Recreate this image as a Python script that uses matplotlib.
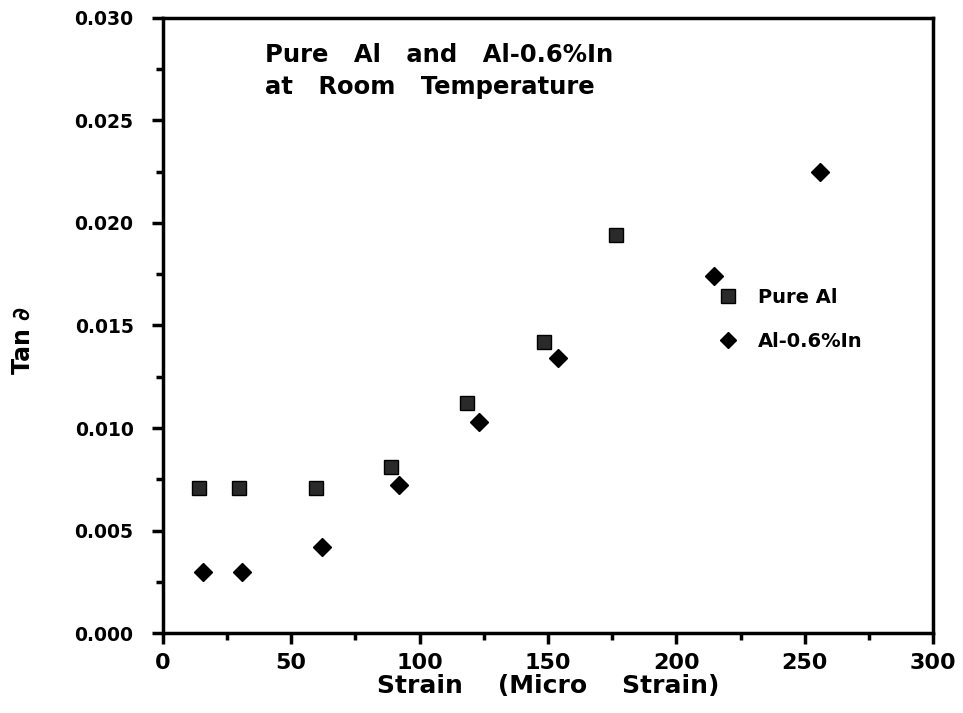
import matplotlib
matplotlib.use("Agg")
import matplotlib.pyplot as plt
from matplotlib.ticker import MultipleLocator

plt.rcParams['font.family'] = ['DejaVu Sans']
plt.rcParams['font.weight'] = 'bold'

# Pure Al
al_strain = [14, 29.5, 59.5, 89, 118.5, 148.5, 176.5]
al_tan = [0.0071, 0.0071, 0.0071, 0.0081, 0.0112, 0.0142, 0.0194]

# Al-0.6%In
alin_strain = [15.5, 31, 62, 92, 123, 154, 214.5, 256]
alin_tan = [0.0030, 0.0030, 0.0042, 0.0072, 0.0103, 0.0134, 0.0174, 0.0225]

fig = plt.figure(figsize=(9.63, 7.13), dpi=100)
ax = fig.add_axes([0.169, 0.112, 0.800, 0.863])

ax.plot(al_strain, al_tan, 's', color='black', markersize=10.5,
        markerfacecolor='#2a2a2a', markeredgecolor='black', label='Pure Al')
ax.plot(alin_strain, alin_tan, 'D', color='black', markersize=9.5, label='Al-0.6%In')

ax.set_xlim(0, 300)
ax.set_ylim(0, 0.030)
ax.xaxis.set_major_locator(MultipleLocator(50))
ax.xaxis.set_minor_locator(MultipleLocator(25))
ax.yaxis.set_major_locator(MultipleLocator(0.005))
ax.yaxis.set_minor_locator(MultipleLocator(0.0025))
ax.yaxis.set_major_formatter(plt.FormatStrFormatter('%.3f'))

for s in ax.spines.values():
    s.set_linewidth(2.5)
ax.tick_params(which='major', direction='out', length=8, width=2.5)
ax.tick_params(axis='x', which='major', labelsize=16, pad=6)
ax.tick_params(axis='y', which='major', labelsize=13.5, pad=13)
ax.tick_params(which='minor', direction='out', length=5, width=2.5)
ax.tick_params(top=False, right=False)

ax.set_xlabel('Strain    (Micro    Strain)', fontsize=18, fontweight='bold', labelpad=1)
ax.set_ylabel('Tan \u2202', fontsize=17, fontweight='bold')
ax.yaxis.set_label_coords(-0.166, 0.476)

ax.text(39.7, 0.0274, 'Pure   Al   and   Al-0.6%In\nat   Room   Temperature',
        fontsize=17.5, fontweight='bold', va='center', ha='left', linespacing=1.4)

ax.legend(loc='center left', bbox_to_anchor=(0.686, 0.51), frameon=False,
          fontsize=14, handletextpad=0.55, labelspacing=1.3, markerscale=0.9)

fig.savefig('out.png', dpi=100)
